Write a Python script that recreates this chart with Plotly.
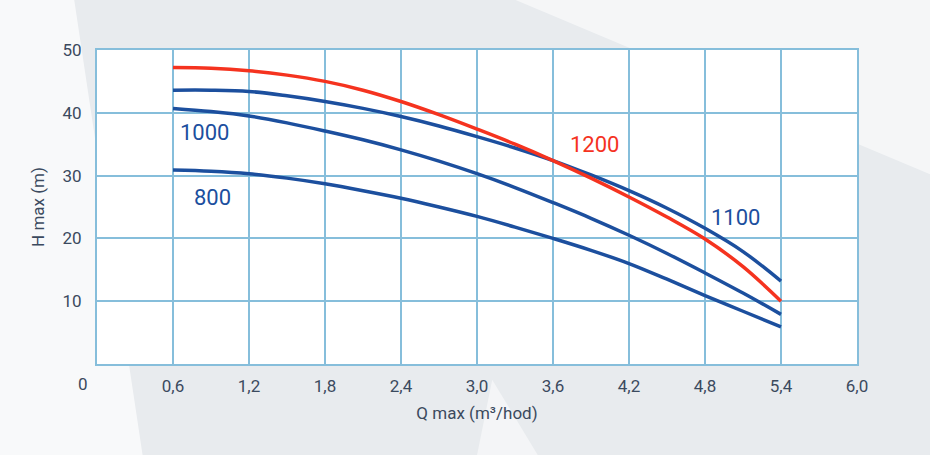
import plotly.graph_objects as go

# flow rate (m3/hod) where the curves were read
q = [0.6, 0.9, 1.2, 1.5, 1.8, 2.1, 2.4, 2.7, 3.0, 3.3, 3.6, 3.9, 4.2, 4.5, 4.8, 5.1, 5.4]

# head (m) for each pump model
h_800 = [30.9, 30.7, 30.3, 29.6, 28.7, 27.6, 26.4, 25.0, 23.5, 21.8, 20.0, 18.1, 16.0, 13.5, 10.9, 8.4, 5.9]
h_1000 = [40.7, 40.2, 39.5, 38.4, 37.1, 35.7, 34.1, 32.3, 30.3, 28.1, 25.7, 23.2, 20.5, 17.6, 14.5, 11.3, 7.9]
h_1100 = [43.6, 43.6, 43.4, 42.7, 41.8, 40.7, 39.4, 37.9, 36.2, 34.4, 32.4, 30.1, 27.6, 24.8, 21.6, 17.9, 13.2]
h_1200 = [47.2, 47.1, 46.7, 46.0, 45.0, 43.6, 41.8, 39.7, 37.4, 35.0, 32.4, 29.6, 26.6, 23.4, 19.9, 15.5, 10.0]

x_ticks = [0.6, 1.2, 1.8, 2.4, 3.0, 3.6, 4.2, 4.8, 5.4, 6.0]
x_tick_text = ["0,6", "1,2", "1,8", "2,4", "3,0", "3,6", "4,2", "4,8", "5,4", "6,0"]
y_ticks = [10, 20, 30, 40, 50]

BLUE = "#1c4f9e"
RED = "#f5331f"
GRID = "#86bedb"
TXT = "#3b4a5e"
FONT = "Roboto"

fig = go.Figure()
for h in [h_800, h_1000, h_1100]:
    fig.add_trace(go.Scatter(x=q, y=h, mode="lines",
                             line=dict(color=BLUE, width=3.5, shape="spline", smoothing=1),
                             hoverinfo="skip"))
fig.add_trace(go.Scatter(x=q, y=h_1200, mode="lines",
                         line=dict(color=RED, width=3.5, shape="spline", smoothing=1),
                         hoverinfo="skip"))

# curve labels
labels = [("1000", 0.85, 36.8, BLUE), ("800", 0.91, 26.5, BLUE),
          ("1200", 3.93, 34.9, RED), ("1100", 5.04, 23.4, BLUE)]
for txt, x, y, c in labels:
    fig.add_annotation(x=x, y=y, text=txt, showarrow=False,
                       font=dict(family=FONT, size=22, color=c))

# shared origin label sits left of the axis corner
fig.add_annotation(x=-0.0184, y=-0.064, xref="paper", yref="paper", text="0",
                   showarrow=False, xanchor="center", yanchor="middle",
                   font=dict(family=FONT, size=17, color=TXT))

# light background facets
for path, op in [("M -0.13 1.16 L -0.03 1.16 L 0.06 -0.29 L -0.13 -0.29 Z", 0.7),
                 ("M 0.55 1.16 L 1.1 1.16 L 1.1 0.6 Z", 0.55),
                 ("M 0.5 -0.29 L 0.58 -0.29 L 0.52 -0.05 Z", 0.5)]:
    fig.add_shape(type="path", path=path, xref="paper", yref="paper",
                  fillcolor="white", opacity=op, line_width=0, layer="below")

fig.update_layout(
    width=930, height=455,
    margin=dict(l=97, r=73, t=50, b=91),
    paper_bgcolor="#e8ebee",
    plot_bgcolor="white",
    showlegend=False,
    font=dict(family=FONT, color=TXT),
    xaxis=dict(range=[0, 6.0], tickvals=x_ticks, ticktext=x_tick_text,
               tickfont=dict(size=17, color=TXT), ticklabelstandoff=6,
               showgrid=True, gridcolor=GRID, gridwidth=2,
               showline=True, linecolor=GRID, linewidth=2, mirror=True,
               zeroline=False, ticks="",
               title=dict(text="Q max (m³/hod)", font=dict(size=17, color=TXT),
                          standoff=12)),
    yaxis=dict(range=[0, 50], tickvals=y_ticks,
               tickfont=dict(size=17, color=TXT), ticklabelstandoff=10,
               showgrid=True, gridcolor=GRID, gridwidth=2,
               showline=True, linecolor=GRID, linewidth=2, mirror=True,
               zeroline=False, ticks="",
               title=dict(text="H max (m)", font=dict(size=17, color=TXT),
                          standoff=14)),
)

fig.write_html("out.html", config={"displayModeBar": False},
               post_script="document.body.style.margin='0';")
